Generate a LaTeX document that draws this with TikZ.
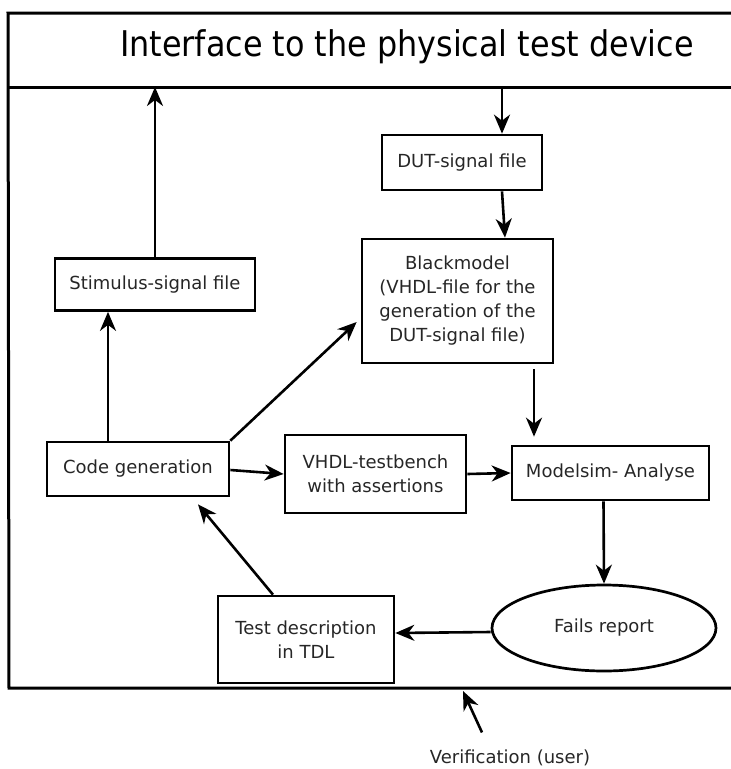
\documentclass[tikz,border=0pt]{standalone}
\usepackage{fontspec}
\setmainfont{DejaVu Sans}
\newfontfamily\titlefont{DejaVu Sans Condensed}
\usetikzlibrary{arrows.meta,calc,shapes.geometric}
\begin{document}
\begin{tikzpicture}[x=1pt,y=-1pt,
  box/.style={draw, line width=2.7pt, align=center, inner sep=0pt,
    font=\fontsize{18}{24}\selectfont, text=black!85},
  conn/.style={line width=2.6pt, -{Stealth[length=19pt,width=16pt,inset=6pt]}},
  frame/.style={line width=3pt}]
\useasboundingbox (0,0) rectangle (731,769);

% outer frame and header band
\draw[frame] (735,13) -- (8,13) -- (9,688) -- (735,688);
\draw[frame] (9,87) -- (735,87);
\node[font=\titlefont\fontsize{35.4}{40}\selectfont] (title) at (407,47) {Interface to the physical test device};
\coordinate (ifA) at (155,87);
\coordinate (ifB) at (502,87);

% blocks
\node[box, minimum width=160pt, minimum height=55pt] (dut) at (462,162.5) {DUT-signal file};
\node[box, minimum width=191pt, minimum height=124pt] (bm) at (457.5,301)
  {Blackmodel\\(VHDL-file for the\\generation of the\\ DUT-signal file)};
\node[box, minimum width=200pt, minimum height=52pt] (stim) at (155,284.5) {Stimulus-signal file};
\node[box, minimum width=182pt, minimum height=54pt] (cg) at (138,469) {Code generation};
\node[box, minimum width=181pt, minimum height=78pt] (tb) at (375.5,474) {VHDL-testbench\\with assertions};
\node[box, minimum width=197pt, minimum height=54pt] (ms) at (610.5,473) {Modelsim- Analyse};
\node[box, ellipse, minimum width=224pt, minimum height=86pt] (fr) at (604,628) {Fails report};
\node[box, minimum width=176pt, minimum height=87pt] (td) at (306,639.5) {Test description\\in TDL};
\node[font=\fontsize{18}{22}\selectfont, text=black!85] (ver) at (510,758) {Verification (user)};
\coordinate (vtip) at (463,691);

% connectors
\draw[conn] (ifB) -- (ifB |- dut.north);
\draw[conn] (dut.south -| ifB) -- ($(bm.north)+(47.5,0)$);
\draw[conn] (stim.north) -- (ifA);
\draw[conn] ($(cg.north)+(-30,0)$) -- ($(stim.south)+(-47,0)$);
\draw[conn] (cg.north east) -- ($(bm.west)+(-4,21)$);
\draw[conn] ($(cg.east)+(0,1)$) -- ($(tb.west)+(0,0)$);
\draw[conn] (tb.east) -- (ms.west);
\draw[conn] ($(bm.south)+(76.5,5)$) -- ($(ms.north)+(-76.5,-8)$);
\draw[conn] ($(ms.south)+(-7,0)$) -- (fr.north);
\draw[conn] ($(fr.west)+(0,4)$) -- ($(td.east)+(0,-6.5)$);
\draw[conn] ($(td.north)+(-33,0)$) -- ($(cg.south)+(60,7)$);
\draw[conn] ($(ver.north)+(-28,-14)$) -- (vtip);
\end{tikzpicture}
\end{document}
